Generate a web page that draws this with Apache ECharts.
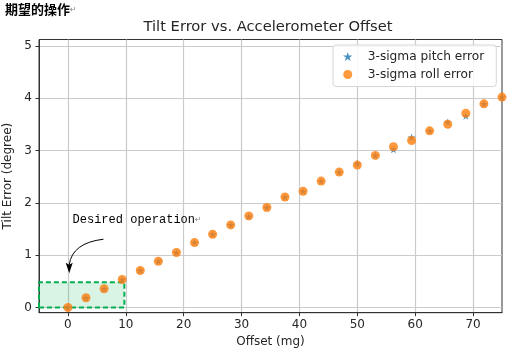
<!DOCTYPE html>
<html>
<head>
<meta charset="utf-8">
<script src="https://cdn.jsdelivr.net/npm/echarts@6/dist/echarts.min.js"></script>
<style>html,body{margin:0;padding:0;background:#fff;}#c{width:515px;height:357px;}</style>
</head>
<body>
<div id="c"></div>
<script>
const offsets = [0, 3.125, 6.25, 9.375, 12.5, 15.625, 18.75, 21.875, 25, 28.125, 31.25, 34.375, 37.5, 40.625, 43.75, 46.875, 50, 53.125, 56.25, 59.375, 62.5, 65.625, 68.75, 71.875, 75];
const pitchErr = [0.0, 0.185, 0.357, 0.535, 0.706, 0.884, 1.05, 1.24, 1.40, 1.577, 1.74, 1.91, 2.11, 2.22, 2.415, 2.587, 2.75, 2.905, 3.02, 3.25, 3.375, 3.54, 3.66, 3.89, 4.02];
const rollErr  = [0.0, 0.185, 0.357, 0.535, 0.706, 0.884, 1.05, 1.24, 1.40, 1.577, 1.75, 1.91, 2.11, 2.22, 2.415, 2.587, 2.72, 2.905, 3.07, 3.19, 3.375, 3.50, 3.71, 3.89, 4.02];
const xTicks = [0, 10, 20, 30, 40, 50, 60, 70];
const yTicks = [0, 1, 2, 3, 4, 5];
const desiredBox = [[-5, 0], [9.75, 0.48]];

const starPath = 'path://M0,-1L0.2245,-0.309L0.951,-0.309L0.363,0.118L0.588,0.809L0,0.382L-0.588,0.809L-0.363,0.118L-0.951,-0.309L-0.2245,-0.309Z';
const font = 'DejaVu Sans';
const chart = echarts.init(document.getElementById('c'), null, {renderer: 'canvas'});

const axisCommon = {
  type: 'value',
  axisLine: {show: true, onZero: false, lineStyle: {color: '#333', width: 1}},
  axisTick: {show: true, inside: false, length: 3.5, lineStyle: {color: '#333', width: 1}},
  axisLabel: {color: '#262626', fontFamily: font, fontSize: 12},
  splitLine: {show: true, lineStyle: {color: '#cbcbcb', width: 1.2}},
  nameLocation: 'middle',
  nameTextStyle: {color: '#262626', fontFamily: font, fontSize: 12}
};

chart.setOption({
  animation: false,
  backgroundColor: '#fff',
  title: {
    text: 'Tilt Error vs. Accelerometer Offset',
    left: 268, top: 20, padding: 0, textAlign: 'center',
    textStyle: {fontFamily: font, fontSize: 14.7, fontWeight: 'normal', color: '#262626'}
  },
  grid: {left: 39, right: 13, top: 39.5, bottom: 44.3, show: true, borderColor: '#333', borderWidth: 1,
    backgroundColor: 'transparent', containLabel: false, outerBoundsMode: 'none'},
  xAxis: Object.assign({}, axisCommon, {
    min: -5, max: 75, name: 'Offset (mg)', nameGap: 21,
    axisTick: Object.assign({}, axisCommon.axisTick, {customValues: xTicks}),
    axisLabel: Object.assign({}, axisCommon.axisLabel, {customValues: xTicks, margin: 6})
  }),
  yAxis: Object.assign({}, axisCommon, {
    min: -0.1, max: 5.12, name: 'Tilt Error (degree)', nameGap: 21,
    axisTick: Object.assign({}, axisCommon.axisTick, {customValues: yTicks}),
    axisLabel: Object.assign({}, axisCommon.axisLabel, {customValues: yTicks, margin: 7})
  }),
  legend: {
    orient: 'vertical', left: 333, top: 45, padding: [5.5, 12, 6, 10],
    itemWidth: 30, itemHeight: 9, itemGap: 6,
    backgroundColor: 'rgba(255,255,255,0.85)', borderColor: '#d6d6d6', borderWidth: 1, borderRadius: 3,
    textStyle: {fontFamily: font, fontSize: 12.2, color: '#262626', lineHeight: 9},
    data: [
      {name: '3-sigma pitch error', icon: starPath},
      {name: '3-sigma roll error', icon: 'circle'}
    ]
  },
  series: [
    {
      name: '3-sigma pitch error', type: 'scatter', symbol: starPath, symbolSize: 8, symbolKeepAspect: true,
      itemStyle: {color: '#1f77b4'},
      data: offsets.map((x, i) => [x, pitchErr[i]]),
      z: 2,
      markArea: {
        silent: true,
        itemStyle: {color: 'rgba(0,176,80,0.15)', borderColor: '#00b050', borderWidth: 2, borderType: [5, 3]},
        data: [[{coord: desiredBox[0]}, {coord: desiredBox[1]}]]
      }
    },
    {
      name: '3-sigma roll error', type: 'scatter', symbol: 'circle', symbolSize: 9,
      itemStyle: {color: '#ff7f0e', opacity: 0.8},
      data: offsets.map((x, i) => [x, rollErr[i]]),
      z: 3
    }
  ]
});

function px(p) { return chart.convertToPixel({gridIndex: 0}, p); }
const textAt = px([0.8, 1.67]);
const p0 = px([6.14, 1.304]), c1 = px([0.74, 1.234]), p2 = px([0.22, 0.814]), tip = px([0.22, 0.656]);
chart.setOption({
  graphic: [
    {type: 'text', left: 5, top: 3, style: {
      text: '{a|期望的操作}{b|↵}',
      rich: {
        a: {fontFamily: 'Noto Sans CJK SC', fontWeight: 'bold', fontSize: 13, fill: '#000'},
        b: {fontFamily: 'DejaVu Sans', fontSize: 8, fill: '#888'}
      }
    }},
    {type: 'text', x: textAt[0], y: textAt[1], z: 10, style: {
      text: '{a|Desired operation}{b|↵}', verticalAlign: 'middle',
      rich: {
        a: {fontFamily: 'Liberation Mono', fontSize: 12, fill: '#000'},
        b: {fontFamily: 'DejaVu Sans', fontSize: 8, fill: '#888'}
      }
    }},
    {type: 'bezierCurve', z: 10, shape: {x1: p0[0], y1: p0[1], cpx1: c1[0], cpy1: c1[1], x2: p2[0], y2: p2[1]},
      style: {stroke: '#000', lineWidth: 1, fill: null}},
    {type: 'polygon', z: 10, shape: {points: [[tip[0], tip[1]], [p2[0] - 3.5, p2[1] - 2], [p2[0], p2[1]], [p2[0] + 3.5, p2[1] - 2]]},
      style: {fill: '#000'}}
  ]
});
</script>
</body>
</html>
